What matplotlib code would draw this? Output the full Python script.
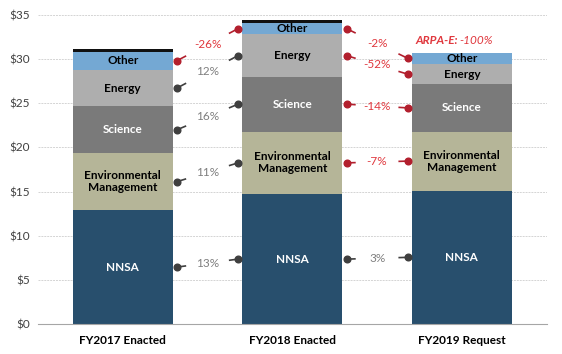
import matplotlib.pyplot as plt

# DOE budget by account, $ billions
years = ["FY2017 Enacted", "FY2018 Enacted", "FY2019 Request"]
segments = ["NNSA", "Environmental\nManagement", "Science", "Energy", "Other", "ARPA-E"]
nnsa = [12.9, 14.7, 15.1]
env_mgmt = [6.45, 7.1, 6.7]
science = [5.3, 6.2, 5.35]
energy = [4.15, 4.8, 2.3]
other = [2.05, 1.3, 1.3]
arpa_e = [0.3, 0.35, 0.0]

# year-over-year change labels (NNSA, EM, Science, Energy, Other)
change_17_18 = ["13%", "11%", "16%", "12%", "-26%"]
change_18_19 = ["3%", "-7%", "-14%", "-52%", "-2%"]
arpa_note = "-100%"

colors = ["#284f6d", "#b5b598", "#7a7a7a", "#aeaeae", "#74a8d3", "#111111"]
text_colors = ["white", "black", "white", "black", "black", None]
fnt = "Lato"

fig = plt.figure(figsize=(5.62, 3.54), dpi=100)
ax = fig.add_axes([0.0676, 0.0847, 0.905, 0.873])

x = range(len(years))
w = 0.59
series = [nnsa, env_mgmt, science, energy, other, arpa_e]
bottoms = [0.0] * len(years)
mids = []
for vals, col, tc, name in zip(series, colors, text_colors, segments):
    ax.bar(x, vals, w, bottom=bottoms, color=col, zorder=2)
    m = [b + v / 2 for b, v in zip(bottoms, vals)]
    mids.append(m)
    if tc:
        for i in x:
            ax.text(i, m[i], name, ha="center", va="center", color=tc,
                    fontsize=8.5, fontweight="bold", family=fnt, zorder=3,
                    linespacing=1.1)
    bottoms = [b + v for b, v in zip(bottoms, vals)]
totals = bottoms

# connectors between bars: dot + short stub at each end, % label in middle
def connectors(i, labels):
    for k, lab in enumerate(labels):
        neg = lab.startswith("-")
        dc = "#b21f2d" if neg else "#3f3f3f"
        tc = "#e0383e" if neg else "#7f7f7f"
        x1, x2 = i + w / 2 + 0.025, i + 1 - w / 2 - 0.025
        y1, y2 = mids[k][i], mids[k][i + 1]
        t = 0.15
        ax.plot([x1, x1 + t * (x2 - x1)], [y1, y1 + t * (y2 - y1)],
                color=dc, lw=1.2, zorder=4, solid_capstyle="butt")
        ax.plot([x2, x2 - t * (x2 - x1)], [y2, y2 - t * (y2 - y1)],
                color=dc, lw=1.2, zorder=4, solid_capstyle="butt")
        ax.plot([x1, x2], [y1, y2], ls="none", marker="o", ms=4.8,
                color=dc, zorder=5)
        ax.text((x1 + x2) / 2, (y1 + y2) / 2, lab, ha="center", va="center",
                color=tc, fontsize=8.5, family=fnt, zorder=5)

connectors(0, change_17_18)
connectors(1, change_18_19)

t1 = ax.text(2 - w / 2 + 0.02, totals[2] + 1.0, "ARPA-E:", color="#e0383e",
             fontsize=8.5, fontweight="bold", style="italic", family=fnt,
             ha="left", va="baseline")
ax.annotate(arpa_note, xy=(1, 0), xycoords=t1, xytext=(1.5, 0),
            textcoords="offset points", color="#e0383e", fontsize=8.5,
            style="italic", family=fnt, ha="left", va="bottom")

ax.set_xlim(-0.5, 2.5)
ax.set_ylim(0, 35)
ax.set_yticks(range(0, 36, 5))
ax.set_yticklabels([f"${v}" for v in range(0, 36, 5)], family=fnt,
                   fontsize=8.5, color="#404040")
ax.set_xticks(list(x))
ax.set_xticklabels(years, family=fnt, fontsize=8.5, fontweight="bold")
ax.tick_params(length=0, pad=8)
ax.tick_params(axis="y", pad=6)
ax.grid(axis="y", color="#d4d4d4", lw=0.7, ls=(0, (2, 1)), zorder=0)
for s in ["top", "right", "left"]:
    ax.spines[s].set_visible(False)
ax.spines["bottom"].set_color("#a6a6a6")
ax.spines["bottom"].set_zorder(3)

fig.savefig("out.png", dpi=100)
